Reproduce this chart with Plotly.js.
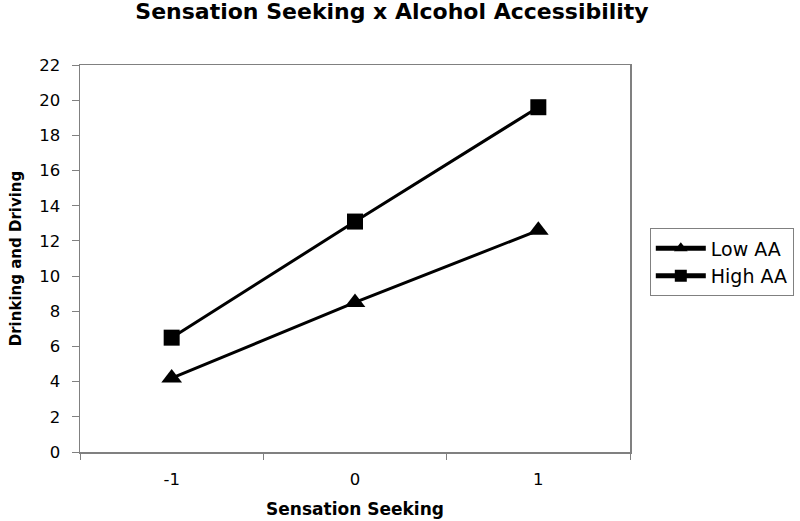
<!DOCTYPE html>
<html>
<head>
<meta charset="utf-8">
<script src="https://cdn.plot.ly/plotly-3.0.1.min.js"></script>
<style>html,body{margin:0;padding:0;background:#fff;}#chart{width:800px;height:521px;}</style>
</head>
<body>
<div id="chart"></div>
<script>
const categories = ['-1', '0', '1'];
const lowAA = [4.2, 8.5, 12.6];
const highAA = [6.5, 13.1, 19.6];
const seriesNames = ['Low AA', 'High AA'];

const FONT = 'DejaVu Sans, Liberation Sans, Arial, sans-serif';

const traces = [
  {
    x: categories, y: lowAA, name: seriesNames[0], type: 'scatter', mode: 'lines+markers',
    line: {color: '#000', width: 3},
    marker: {symbol: 'triangle-up', size: 18, color: '#000'}
  },
  {
    x: categories, y: highAA, name: seriesNames[1], type: 'scatter', mode: 'lines+markers',
    line: {color: '#000', width: 3},
    marker: {symbol: 'square', size: 16, color: '#000'}
  }
];

const layout = {
  width: 800, height: 521,
  margin: {l: 80, r: 170, t: 65, b: 69, autoexpand: false},
  paper_bgcolor: '#fff', plot_bgcolor: '#fff',
  font: {family: FONT, size: 16, color: '#000'},
  title: {text: '<b>Sensation Seeking x Alcohol Accessibility</b>', font: {family: FONT, size: 22, color: '#000'},
          x: 0.49, xanchor: 'center', y: 0.979, yanchor: 'middle'},
  xaxis: {
    type: 'category', tickson: 'boundaries', ticks: 'outside', ticklen: 6, tickcolor: '#808080', tickwidth: 1,
    showline: true, linecolor: '#808080', linewidth: 1.5, mirror: true, showgrid: false, zeroline: false,
    range: [-0.5, 2.5], ticklabelstandoff: 12,
    tickfont: {family: FONT, size: 16.5, color: '#000'},
    title: {text: '<b>Sensation Seeking</b>', font: {family: FONT, size: 17, color: '#000'}, standoff: 15}
  },
  yaxis: {
    range: [0, 22], dtick: 2, tick0: 0, ticks: 'outside', ticklen: 7, tickcolor: '#808080', tickwidth: 1,
    showline: true, linecolor: '#808080', linewidth: 1.5, mirror: true, showgrid: false, zeroline: false,
    ticklabelstandoff: 8,
    tickfont: {family: FONT, size: 16.5, color: '#000'},
    title: {text: '<b>Drinking and Driving</b>', font: {family: FONT, size: 15, color: '#000'}, standoff: 14}
  },
  legend: {
    x: 1.036, xanchor: 'left', y: 0.578, yanchor: 'top',
    bordercolor: '#808080', borderwidth: 1, bgcolor: '#fff',
    font: {family: FONT, size: 19, color: '#000'},
    tracegroupgap: 0, itemsizing: 'constant', itemwidth: 50
  },
  showlegend: true
};

Plotly.newPlot('chart', traces, layout, {displayModeBar: false, staticPlot: true});
</script>
</body>
</html>
